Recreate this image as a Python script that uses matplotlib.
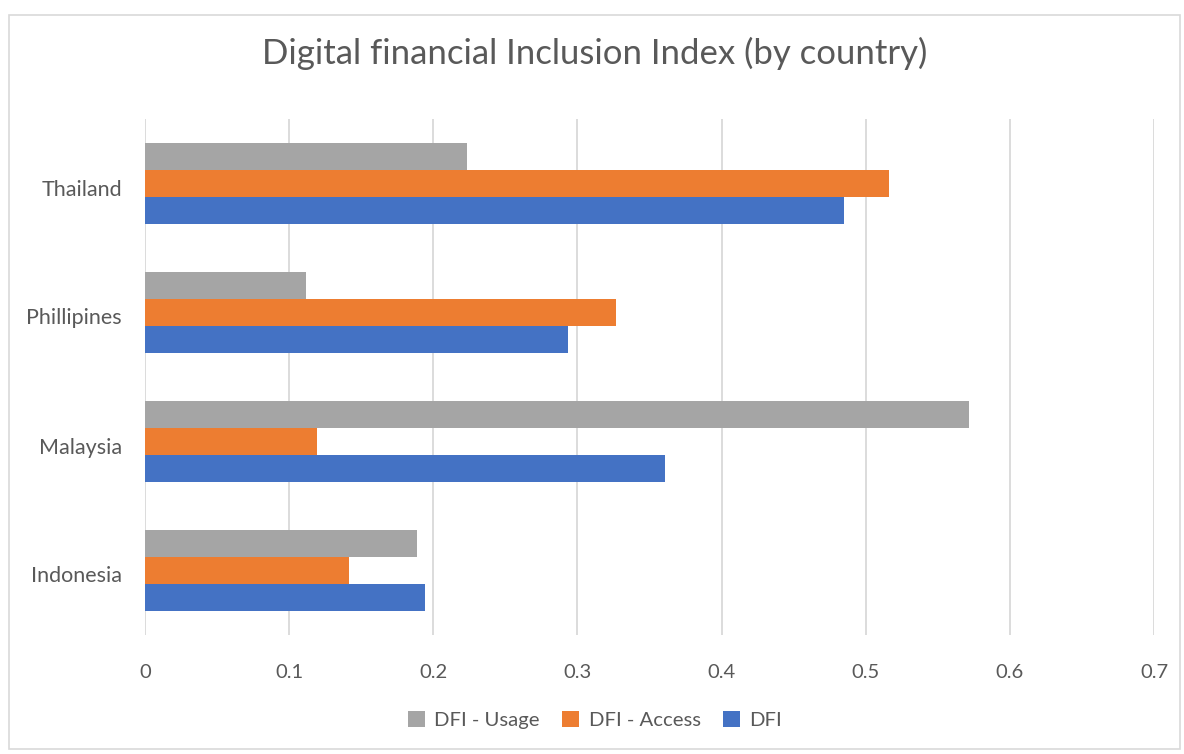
import matplotlib
matplotlib.use("Agg")
import matplotlib.pyplot as plt
import matplotlib.transforms as mtransforms
from matplotlib.patches import Rectangle
import numpy as np

countries = ["Indonesia", "Malaysia", "Phillipines", "Thailand"]
dfi = [0.194, 0.361, 0.2935, 0.485]
dfi_access = [0.1416, 0.119, 0.327, 0.516]
dfi_usage = [0.189, 0.572, 0.112, 0.2234]
xticks = [0, 0.1, 0.2, 0.3, 0.4, 0.5, 0.6, 0.7]
xtick_labels = ["0", "0.1", "0.2", "0.3", "0.4", "0.5", "0.6", "0.7"]

plt.rcParams['font.family'] = ['Lato', 'DejaVu Sans']
txt = '#595959'

fig = plt.figure(figsize=(11.84, 7.54), dpi=100)
fig.patches.append(Rectangle((9/1184, 1-749/754), 1171/1184, 734/754, transform=fig.transFigure,
                             fill=False, edgecolor='#D9D9D9', linewidth=1.2))
ax = fig.add_axes([145/1184, 1-635/754, 1009/1184, 516/754])

y = np.arange(len(countries))
h = 0.207
ax.barh(y - h, dfi, height=h, color='#4472C4', label='DFI', zorder=3)
ax.barh(y, dfi_access, height=h, color='#ED7D31', label='DFI - Access', zorder=3)
ax.barh(y + h, dfi_usage, height=h, color='#A5A5A5', label='DFI - Usage', zorder=3)

ax.set_xlim(0, 0.7)
ax.set_ylim(-0.5, 3.5)
ax.set_xticks(xticks)
ax.set_xticklabels(xtick_labels)
ax.set_yticks(y)
ax.set_yticklabels(countries)
ax.grid(axis='x', color='#D9D9D9', linewidth=1.3, zorder=0)
for s in ax.spines.values():
    s.set_visible(False)
ax.tick_params(axis='both', length=0, labelcolor=txt)
ax.tick_params(axis='x', pad=21, labelsize=14.5)
ax.tick_params(axis='y', pad=16.5, labelsize=15.5)
off = mtransforms.ScaledTranslation(0, -4/100, fig.dpi_scale_trans)
for lab in ax.get_yticklabels():
    lab.set_transform(lab.get_transform() + off)

fig.text(595/1184, 1-53/754, "Digital financial Inclusion Index (by country)", ha='center', va='center',
         fontsize=25, color=txt)

handles, labels = ax.get_legend_handles_labels()
order = [2, 1, 0]
leg = fig.legend([handles[i] for i in order], [labels[i] for i in order], loc='center',
                 bbox_to_anchor=(595/1184, 1-720/754), ncol=3, frameon=False, fontsize=14.6,
                 handlelength=0.85, handleheight=0.85, handletextpad=0.45, columnspacing=1.1)
for t in leg.get_texts():
    t.set_color(txt)

fig.savefig("out.png", dpi=100)
